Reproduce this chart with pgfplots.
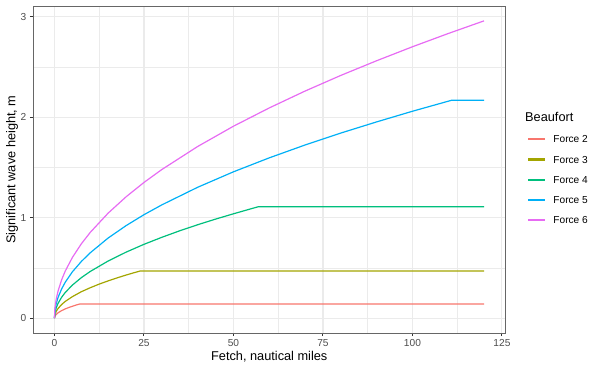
\documentclass[border=0pt]{standalone}
\usepackage{pgfplots}
\pgfplotsset{compat=1.18}
\usepackage{fontspec}
\setmainfont{Liberation Sans}
\definecolor{f2}{HTML}{F8766D}
\definecolor{f3}{HTML}{A3A500}
\definecolor{f4}{HTML}{00BF7D}
\definecolor{f5}{HTML}{00B0F6}
\definecolor{f6}{HTML}{E76BF3}
\definecolor{gridc}{HTML}{EBEBEB}
\definecolor{grey20}{HTML}{333333}
\definecolor{grey30}{HTML}{4D4D4D}
\begin{document}
\begin{tikzpicture}[x=1bp,y=1bp]
\begin{axis}[
  at={(0,0)}, anchor=south west,
  scale only axis, width=472.5bp, height=327bp,
  xmin=-6, xmax=126, ymin=-0.148, ymax=3.108,
  xtick={0,25,50,75,100,125}, ytick={0,1,2,3},
  minor xtick={12.5,37.5,62.5,87.5,112.5}, minor ytick={0.5,1.5,2.5},
  xtick pos=bottom, ytick pos=left,
  grid=both,
  major grid style={draw=gridc, line width=1.1bp},
  minor grid style={draw=gridc, line width=0.6bp},
  axis line style={draw=grey20!75, line width=0.9bp},
  tick align=outside, major tick length=3.2bp, minor tick length=0pt,
  tick style={draw=grey20, line width=1.0bp},
  /pgf/number format/assume math mode=true,
  ticklabel style={font=\fontsize{10.2}{12}\selectfont, text=grey30},
  xlabel={Fetch, nautical miles}, ylabel={Significant wave height, m},
  label style={font=\fontsize{12.8}{15}\selectfont},
  xlabel style={at={(axis description cs:0.5,-0.0734)}, anchor=center},
  ylabel style={at={(axis description cs:-0.0444,0.5)}, anchor=center},
  legend style={at={(1,0.6047)}, anchor=north west, xshift=22.2bp,
    draw=none, fill=none, inner sep=0pt,
    nodes={inner sep=0pt, text height=7.5bp, text depth=0bp},
    font=\fontsize{10.2}{12}\selectfont, row sep=12.75bp, cells={anchor=west}},
  legend image code/.code={\fill[#1] (0bp,-0.55bp) rectangle (15.6bp,0.55bp); \path (24.3bp,0bp);},
  every axis plot/.append style={line width=1.2bp},
]
\addplot[color=f2] coordinates {(0,0) (0.1,0.0167) (0.25,0.026) (0.5,0.037) (1,0.053) (2,0.075) (3,0.092) (4,0.106) (5,0.118) (6,0.130) (7,0.14) (120,0.14)};
\addlegendentry{Force 2}
\addplot[color=f3] coordinates {(0,0) (0.1,0.030) (0.25,0.048) (0.5,0.068) (1,0.096) (2,0.136) (3,0.166) (5,0.214) (7.5,0.263) (10,0.303) (12.5,0.339) (15,0.371) (17.5,0.401) (20,0.429) (22,0.450) (24,0.47) (120,0.47)};
\addlegendentry{Force 3}
\addplot[color=f4] coordinates {(0,0) (0.1,0.046) (0.25,0.074) (0.5,0.104) (1,0.147) (2,0.208) (3,0.255) (5,0.329) (7.5,0.403) (10,0.465) (15,0.569) (20,0.657) (25,0.735) (30,0.805) (35,0.870) (40,0.930) (45,0.986) (50,1.039) (57,1.11) (120,1.11)};
\addlegendentry{Force 4}
\addplot[color=f5] coordinates {(0,0) (0.1,0.065) (0.25,0.103) (0.5,0.146) (1,0.206) (2,0.291) (3,0.357) (5,0.461) (7.5,0.564) (10,0.651) (15,0.798) (20,0.921) (25,1.030) (30,1.128) (40,1.303) (50,1.457) (60,1.596) (70,1.724) (80,1.843) (90,1.954) (100,2.060) (111,2.17) (120,2.17)};
\addlegendentry{Force 5}
\addplot[color=f6] coordinates {(0,0) (0.1,0.085) (0.25,0.135) (0.5,0.191) (1,0.270) (2,0.382) (3,0.468) (5,0.604) (7.5,0.740) (10,0.854) (15,1.046) (20,1.208) (25,1.351) (30,1.480) (40,1.709) (50,1.911) (60,2.093) (70,2.261) (80,2.417) (90,2.563) (100,2.702) (110,2.834) (120,2.960)};
\addlegendentry{Force 6}
\end{axis}
\node[anchor=west, inner sep=0pt, font=\fontsize{12.8}{15}\selectfont] at (492,216) {Beaufort};
\useasboundingbox (-33,-38) rectangle (567,333);
\end{tikzpicture}
\end{document}
